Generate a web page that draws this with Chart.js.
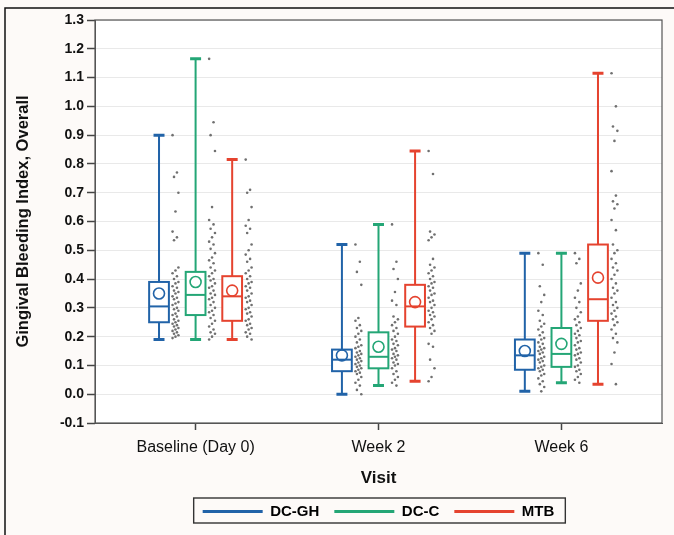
<!DOCTYPE html>
<html>
<head>
<meta charset="utf-8">
<script src="https://cdn.jsdelivr.net/npm/chart.js@4.4.0/dist/chart.umd.min.js"></script>
<style>
    body{margin:0;background:#fdfaf8;}
    canvas{display:block;}
</style>
</head>
<body>
<canvas id="myChart" width="674" height="535"></canvas>
<script>
// 資料
const visits = ['Baseline (Day 0)', 'Week 2', 'Week 6'];
const groups = ['DC-GH', 'DC-C', 'MTB'];

// box stats, one value per visit
const dcghMin    = [0.19, 0.00, 0.01];
const dcghQ1     = [0.25, 0.08, 0.085];
const dcghMedian = [0.305, 0.12, 0.135];
const dcghQ3     = [0.39, 0.155, 0.19];
const dcghMax    = [0.90, 0.52, 0.49];
const dcghMean   = [0.35, 0.135, 0.15];

const dccMin    = [0.19, 0.03, 0.04];
const dccQ1     = [0.275, 0.09, 0.095];
const dccMedian = [0.345, 0.13, 0.14];
const dccQ3     = [0.425, 0.215, 0.23];
const dccMax    = [1.165, 0.59, 0.49];
const dccMean   = [0.39, 0.165, 0.175];

const mtbMin    = [0.19, 0.045, 0.035];
const mtbQ1     = [0.255, 0.235, 0.255];
const mtbMedian = [0.34, 0.305, 0.33];
const mtbQ3     = [0.41, 0.38, 0.52];
const mtbMax    = [0.815, 0.845, 1.115];
const mtbMean   = [0.36, 0.32, 0.405];

// individual subjects
const dcghPoints = [
    [0.9,0.77,0.755,0.70,0.635,0.565,0.545,0.535,0.44,0.43,0.42,0.41,0.40,0.39,0.385,0.375,0.37,0.36,0.355,0.35,0.34,0.335,0.33,0.32,0.315,0.31,0.30,0.295,0.29,0.28,0.275,0.27,0.26,0.255,0.25,0.245,0.24,0.235,0.23,0.225,0.22,0.215,0.21,0.205,0.20,0.195],
    [0.52,0.46,0.425,0.38,0.265,0.255,0.24,0.23,0.22,0.21,0.20,0.19,0.18,0.17,0.165,0.16,0.15,0.145,0.14,0.135,0.13,0.125,0.12,0.115,0.11,0.105,0.10,0.095,0.09,0.085,0.08,0.075,0.07,0.06,0.05,0.04,0.03,0.015,0.0],
    [0.49,0.45,0.375,0.345,0.32,0.29,0.275,0.255,0.245,0.235,0.225,0.215,0.205,0.195,0.19,0.18,0.175,0.165,0.16,0.155,0.15,0.145,0.14,0.13,0.125,0.12,0.115,0.11,0.10,0.095,0.09,0.085,0.08,0.07,0.065,0.055,0.045,0.035,0.025,0.01]
];
const dccPoints = [
    [1.165,0.945,0.90,0.845,0.65,0.605,0.59,0.575,0.56,0.545,0.53,0.52,0.505,0.49,0.475,0.465,0.455,0.44,0.43,0.42,0.41,0.40,0.395,0.385,0.375,0.37,0.36,0.35,0.345,0.335,0.33,0.32,0.31,0.30,0.29,0.285,0.275,0.265,0.255,0.245,0.235,0.225,0.215,0.21,0.20,0.19],
    [0.59,0.46,0.435,0.40,0.355,0.325,0.31,0.27,0.26,0.25,0.24,0.23,0.22,0.21,0.20,0.19,0.185,0.175,0.17,0.16,0.155,0.15,0.14,0.135,0.13,0.125,0.12,0.11,0.105,0.10,0.09,0.08,0.07,0.06,0.05,0.04,0.03],
    [0.49,0.47,0.455,0.385,0.36,0.335,0.32,0.30,0.285,0.27,0.26,0.25,0.24,0.23,0.22,0.21,0.205,0.195,0.185,0.18,0.17,0.16,0.155,0.145,0.14,0.135,0.125,0.12,0.11,0.10,0.095,0.085,0.08,0.07,0.06,0.05,0.04]
];
const mtbPoints = [
    [0.815,0.71,0.70,0.65,0.605,0.585,0.575,0.56,0.52,0.50,0.485,0.47,0.46,0.44,0.43,0.42,0.41,0.40,0.39,0.385,0.375,0.37,0.36,0.35,0.34,0.335,0.325,0.32,0.31,0.30,0.295,0.285,0.28,0.27,0.26,0.255,0.245,0.24,0.23,0.225,0.215,0.21,0.20,0.19],
    [0.845,0.765,0.565,0.555,0.545,0.535,0.47,0.45,0.44,0.43,0.42,0.41,0.40,0.39,0.385,0.375,0.37,0.36,0.35,0.345,0.335,0.325,0.32,0.31,0.30,0.29,0.285,0.275,0.27,0.26,0.25,0.24,0.23,0.22,0.21,0.175,0.165,0.12,0.09,0.06,0.045],
    [1.115,1.0,0.93,0.915,0.88,0.775,0.69,0.67,0.66,0.645,0.605,0.57,0.52,0.50,0.49,0.47,0.455,0.44,0.43,0.415,0.40,0.385,0.37,0.36,0.35,0.335,0.32,0.31,0.30,0.29,0.28,0.27,0.26,0.25,0.24,0.225,0.21,0.195,0.18,0.145,0.105,0.035]
];

const yMin = -0.1, yMax = 1.3, yStep = 0.1;

// 樣式
const colors = ['#2163a8', '#24a676', '#e5432f'];
const groupOffset = [-0.2, 0, 0.2];
const boxHalf = 0.054;
const capHalf = 0.03;
const dotOffset = 0.09;

const stats = [
    {min:dcghMin, q1:dcghQ1, med:dcghMedian, q3:dcghQ3, max:dcghMax, mean:dcghMean, pts:dcghPoints},
    {min:dccMin,  q1:dccQ1,  med:dccMedian,  q3:dccQ3,  max:dccMax,  mean:dccMean,  pts:dccPoints},
    {min:mtbMin,  q1:mtbQ1,  med:mtbMedian,  q3:mtbQ3,  max:mtbMax,  mean:mtbMean,  pts:mtbPoints}
];

// datasets: means first so they are drawn on top
var datasets = [];
stats.forEach(function(s, g){
    datasets.push({
        label: groups[g] + ' mean',
        data: s.mean.map(function(v, c){ return {x: c + groupOffset[g], y: v}; }),
        pointRadius: 5.5,
        pointBorderWidth: 1.6,
        pointBorderColor: colors[g],
        pointBackgroundColor: 'rgba(0,0,0,0)',
        showLine: false
    });
});
stats.forEach(function(s, g){
    var d = [];
    s.pts.forEach(function(list, c){
        list.forEach(function(v, i){
            // small fixed spread so dots don't stack
            var j = ((i * 3) % 5 - 2) * 0.008;
            d.push({x: c + groupOffset[g] + dotOffset + j, y: v});
        });
    });
    datasets.push({
        label: groups[g] + ' subjects',
        data: d,
        pointRadius: 1.3,
        pointBorderWidth: 0,
        pointBackgroundColor: '#707070',
        showLine: false
    });
});

const boxPlugin = {
    id: 'boxPlugin',
    afterLayout(chart){
        // centre the legend under the plot area
        var lg = chart.legend, a = chart.chartArea;
        if (lg){
            lg.left = a.left;
            lg.right = a.right;
            lg.width = a.right - a.left;
        }
    },
    beforeDraw(chart){
        var ctx = chart.ctx, a = chart.chartArea;
        ctx.save();
        ctx.fillStyle = '#fdfaf8';
        ctx.fillRect(0, 0, chart.width, chart.height);
        ctx.fillStyle = '#ffffff';
        ctx.fillRect(a.left, a.top, a.right - a.left, a.bottom - a.top);
        // outer frame
        ctx.strokeStyle = '#111';
        ctx.lineWidth = 1.5;
        ctx.beginPath();
        ctx.moveTo(5, chart.height);
        ctx.lineTo(5, 8);
        ctx.lineTo(chart.width, 8);
        ctx.stroke();
        ctx.restore();
    },
    beforeDatasetsDraw(chart){
        var ctx = chart.ctx, xs = chart.scales.x, ys = chart.scales.y;
        ctx.save();
        stats.forEach(function(s, g){
            ctx.strokeStyle = colors[g];
            visits.forEach(function(v, c){
                var xc = c + groupOffset[g];
                var px = xs.getPixelForValue(xc);
                var bl = xs.getPixelForValue(xc - boxHalf), br = xs.getPixelForValue(xc + boxHalf);
                var cl = xs.getPixelForValue(xc - capHalf), cr = xs.getPixelForValue(xc + capHalf);
                var yMinP = ys.getPixelForValue(s.min[c]), yQ1 = ys.getPixelForValue(s.q1[c]);
                var yMed = ys.getPixelForValue(s.med[c]), yQ3 = ys.getPixelForValue(s.q3[c]);
                var yMaxP = ys.getPixelForValue(s.max[c]);
                ctx.lineWidth = 2;
                ctx.beginPath();
                ctx.moveTo(px, yMinP); ctx.lineTo(px, yQ1);
                ctx.moveTo(px, yQ3); ctx.lineTo(px, yMaxP);
                ctx.stroke();
                ctx.lineWidth = 3;
                ctx.beginPath();
                ctx.moveTo(cl, yMinP); ctx.lineTo(cr, yMinP);
                ctx.moveTo(cl, yMaxP); ctx.lineTo(cr, yMaxP);
                ctx.stroke();
                ctx.lineWidth = 2;
                ctx.fillStyle = '#ffffff';
                ctx.fillRect(bl, yQ3, br - bl, yQ1 - yQ3);
                ctx.strokeRect(bl, yQ3, br - bl, yQ1 - yQ3);
                ctx.beginPath();
                ctx.moveTo(bl, yMed); ctx.lineTo(br, yMed);
                ctx.stroke();
            });
        });
        ctx.restore();
    },
    afterDraw(chart){
        var ctx = chart.ctx, a = chart.chartArea;
        ctx.save();
        ctx.strokeStyle = '#555';
        ctx.lineWidth = 1.2;
        ctx.strokeRect(a.left, a.top, a.right - a.left, a.bottom - a.top);
        // legend frame
        var boxes = chart.legend.legendHitBoxes;
        if (boxes && boxes.length){
            var l = Math.min.apply(null, boxes.map(function(b){return b.left;}));
            var r = Math.max.apply(null, boxes.map(function(b){return b.left + b.width;}));
            var t = Math.min.apply(null, boxes.map(function(b){return b.top;}));
            var bt = Math.max.apply(null, boxes.map(function(b){return b.top + b.height;}));
            ctx.strokeStyle = '#333';
            ctx.lineWidth = 1.4;
            ctx.strokeRect(l - 9, t - 6, r - l + 20, bt - t + 10);
        }
        ctx.restore();
    }
};

var ctx = document.getElementById('myChart');
var myChart = new Chart(ctx, {
    type: 'scatter',
    data: {datasets: datasets},
    plugins: [boxPlugin],
    options: {
        responsive: false,
        animation: false,
        layout: {padding: {left: 10, top: 20, right: 12, bottom: 6}},
        plugins: {
            tooltip: {enabled: false},
            legend: {
                position: 'bottom',
                onClick: null,
                labels: {
                    boxWidth: 60,
                    boxHeight: 3,
                    padding: 15,
                    color: '#111',
                    font: {family: 'Liberation Sans', size: 15, weight: 'bold'},
                    generateLabels: function(){
                        return groups.map(function(name, g){
                            return {text: name, fillStyle: colors[g], strokeStyle: colors[g], lineWidth: 0, hidden: false, datasetIndex: g};
                        });
                    }
                }
            }
        },
        scales: {
            x: {
                type: 'linear',
                min: -0.55,
                max: 2.55,
                afterBuildTicks: function(scale){
                    scale.ticks = visits.map(function(v, i){ return {value: i}; });
                },
                afterFit: function(scale){ scale.height = 66; },
                ticks: {
                    callback: function(v){ return visits[v]; },
                    color: '#111',
                    padding: 8,
                    maxRotation: 0,
                    font: {family: 'Liberation Sans', size: 16}
                },
                grid: {drawOnChartArea: false, drawTicks: true, tickLength: 7, tickColor: '#444', tickWidth: 1.5},
                border: {display: true, color: '#555'},
                title: {display: true, text: 'Visit', color: '#111', padding: {top: 0, bottom: 0}, font: {family: 'Liberation Sans', size: 17, weight: 'bold'}}
            },
            y: {
                min: yMin,
                max: yMax,
                afterFit: function(scale){ scale.width = 85; },
                ticks: {
                    stepSize: yStep,
                    callback: function(v){ return (Math.round(v * 10) / 10).toFixed(1); },
                    color: '#111',
                    padding: 3,
                    font: {family: 'Liberation Sans', size: 14, weight: 'bold'}
                },
                grid: {color: '#e9e9e9', lineWidth: 1, drawTicks: true, tickLength: 8, tickColor: '#444', tickWidth: 1.5},
                border: {display: true, color: '#555'},
                title: {display: true, text: 'Gingival Bleeding Index, Overall', color: '#111', padding: {bottom: 0}, font: {family: 'Liberation Sans', size: 16.5, weight: 'bold'}}
            }
        }
    }
});
</script>
</body>
</html>
